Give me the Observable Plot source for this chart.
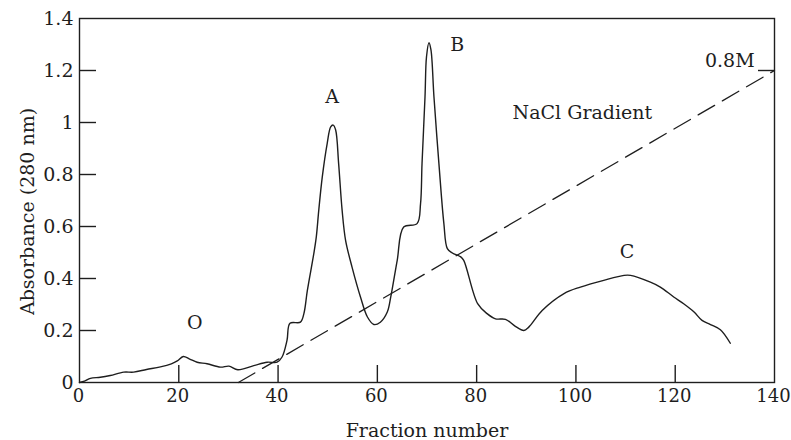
<!DOCTYPE html>
<html>
<head>
<meta charset="utf-8">
<script src="https://cdn.jsdelivr.net/npm/d3@7"></script>
<script src="https://cdn.jsdelivr.net/npm/@observablehq/plot@0.6"></script>
<style>
  html, body { margin: 0; padding: 0; background: #fff; }
  #chart svg { display: block; }
</style>
</head>
<body>
<div id="chart"></div>
<script>
// Elution profile (absorbance at 280 nm vs fraction number)
const fraction = [0,1,2.2,4.2,6.2,8.9,10.9,13.5,16.3,18.5,19.7,20.9,22.2,23.7,25.7,28.4,30.1,31.9,35.1,37.8,39.8,40.8,41.8,42.4,44.5,45.2,45.9,47.2,47.7,48.2,48.9,49.9,50.6,51.1,51.6,52.2,52.9,53.6,54.9,56.6,58.0,59.3,60.6,62.0,62.7,64.0,65.3,68.0,68.7,69.0,69.6,69.9,70.4,70.8,71.4,72.4,73.4,74.1,75.1,76.8,77.4,80.2,82.1,83.8,85.8,87.8,89.5,90.5,93.2,97.6,100.9,105.6,109.7,111.0,115.0,117.0,119.7,121.7,123.8,125.4,127.1,129.1,131.1];
const absorbance = [0,0.005,0.016,0.02,0.027,0.04,0.04,0.05,0.06,0.072,0.083,0.10,0.09,0.078,0.072,0.059,0.063,0.049,0.065,0.078,0.078,0.098,0.162,0.228,0.232,0.265,0.354,0.496,0.56,0.663,0.79,0.92,0.983,0.99,0.971,0.842,0.663,0.547,0.444,0.329,0.252,0.223,0.232,0.271,0.329,0.47,0.598,0.611,0.688,0.842,1.099,1.253,1.307,1.279,1.099,0.842,0.611,0.515,0.498,0.483,0.47,0.303,0.265,0.245,0.243,0.216,0.2,0.213,0.277,0.342,0.367,0.393,0.412,0.412,0.386,0.367,0.329,0.303,0.271,0.239,0.223,0.203,0.151];

// NaCl gradient (drawn against the absorbance axis)
const gradientFraction = [32, 140];
const gradientLevel = [0, 1.2];

// Peak / annotation labels
const noteText = ["O", "A", "B", "C", "NaCl Gradient", "0.8M"];
const noteX = [23.2, 50.9, 76.1, 110.3, 101.3, 131.0];
const noteY = [0.23, 1.10, 1.30, 0.502, 1.035, 1.236];

// Axis ticks
const xTicks = [0, 20, 40, 60, 80, 100, 120, 140];
const yTicks = [0, 0.2, 0.4, 0.6, 0.8, 1, 1.2, 1.4];
const xInnerTicks = [20, 40, 60, 80, 100, 120];
const yInnerTicks = [0.2, 0.4, 0.6, 0.8, 1, 1.2];
const gradientEndTick = [1.2];

const xLabel = "Fraction number";
const yLabel = "Absorbance (280 nm)";

const profile = fraction.map((f, i) => ({f, a: absorbance[i]}));
const gradient = gradientFraction.map((f, i) => ({f, a: gradientLevel[i]}));
const notes = noteText.map((t, i) => ({t, x: noteX[i], y: noteY[i]}));

const W = 791, H = 440, mt = 18, mb = 58, ml = 79, mr = 17;
const innerH = H - mt - mb, innerW = W - ml - mr;
const ink = "#1e1e1e";
const font = "DejaVu Serif";

const chart = Plot.plot({
  width: W,
  height: H,
  marginTop: mt,
  marginBottom: mb,
  marginLeft: ml,
  marginRight: mr,
  style: {fontFamily: font, fontSize: "19px", color: ink, background: "#fff"},
  x: {domain: [0, 140]},
  y: {domain: [0, 1.4]},
  marks: [
    Plot.axisX(xTicks, {tickSize: 0, tickPadding: 7, dx: -1, tickFormat: d => String(d), label: null, fontSize: 18, fill: ink}),
    Plot.axisY(yTicks, {tickSize: 0, tickPadding: 6, tickFormat: d => String(d), label: null, fontSize: 19, fill: ink}),
    Plot.tickX(xInnerTicks, {x: d => d, insetTop: innerH - 17, stroke: ink, strokeWidth: 1.4}),
    Plot.tickY(yInnerTicks, {y: d => d, insetRight: innerW - 17, stroke: ink, strokeWidth: 1.4}),
    Plot.tickY(gradientEndTick, {y: d => d, insetLeft: innerW - 16, stroke: ink, strokeWidth: 1.4}),
    Plot.line(gradient, {x: "f", y: "a", stroke: ink, strokeWidth: 1.3, strokeDasharray: "19,9"}),
    Plot.line(profile, {x: "f", y: "a", stroke: ink, strokeWidth: 1.4, curve: "catmull-rom"}),
    Plot.text(notes, {x: "x", y: "y", text: "t", fontSize: 19, fill: ink}),
    Plot.text([xLabel], {frameAnchor: "bottom", textAnchor: "middle", lineAnchor: "middle", dy: 48, fontSize: 19, fill: ink}),
    Plot.text([yLabel], {frameAnchor: "left", textAnchor: "middle", lineAnchor: "middle", rotate: -90, dx: -52, dy: 11, fontSize: 19, fill: ink}),
    Plot.frame({stroke: ink, strokeWidth: 1.4})
  ]
});
document.getElementById("chart").appendChild(chart);
</script>
</body>
</html>
